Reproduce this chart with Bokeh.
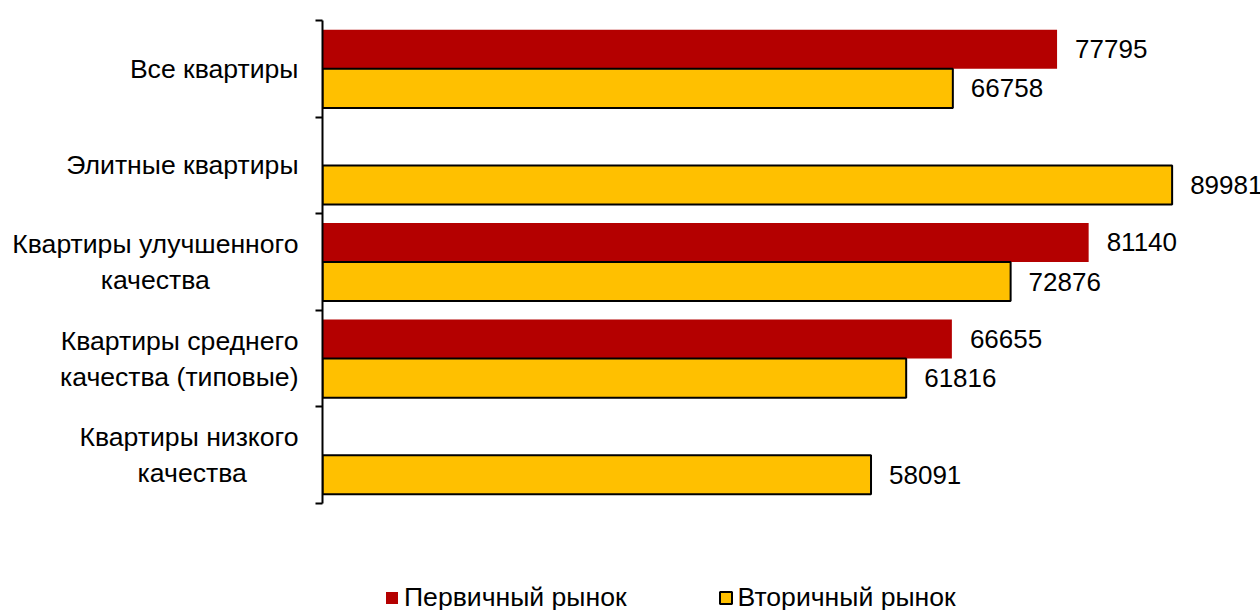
from bokeh.plotting import figure
from bokeh.models import (ColumnDataSource, Range1d, LinearAxis, FixedTicker,
                          Legend, LegendItem)
from bokeh.core.properties import value
from bokeh.embed import file_html
from bokeh.resources import INLINE

categories = ["Все квартиры", "Элитные квартиры", "Квартиры улучшенного\nкачества",
              "Квартиры среднего\nкачества (типовые)", "Квартиры низкого\nкачества"]
primary = [77795, None, 81140, 66655, None]
secondary = [66758, 89981, 72876, 61816, 58091]
series_names = ["Первичный рынок", "Вторичный рынок"]

FONT = "Liberation Sans"
RED = "#B40000"
YELLOW = "#FFC000"


def centered(label):
    # pad short lines so that right-aligned multi-line tick labels look centred
    lines = label.split("\n")
    if len(lines) == 1:
        return label
    pads = {"качества": {"Квартиры улучшенного": 12, "Квартиры низкого": 7}}
    out = [lines[0]]
    for ln in lines[1:]:
        k = pads.get(ln, {}).get(lines[0], 0)
        out.append(ln + "\u00a0" * k)
    return "\n".join(out)


n = len(categories)
centers = [n - 1 - i + 0.5 for i in range(n)]
off = 0.2025
h = 0.405

p_src = ColumnDataSource(dict(
    y=[c + off for c, v in zip(centers, primary) if v is not None],
    v=[v for v in primary if v is not None],
    t=[str(v) for v in primary if v is not None],
))
s_src = ColumnDataSource(dict(
    y=[c - off for c in centers],
    v=secondary,
    t=[str(v) for v in secondary],
))

p = figure(width=1260, height=610, output_backend="svg", toolbar_location=None,
           x_range=Range1d(0, 99340), y_range=Range1d(-1.1077, n),
           x_axis_location=None, y_axis_location=None,
           min_border_left=322, min_border_right=0, min_border_top=20,
           min_border_bottom=0)
p.xgrid.visible = False
p.ygrid.visible = False
p.outline_line_color = None

r1 = p.hbar(y="y", right="v", left=0, height=h, source=p_src,
            fill_color=RED, line_color=None)
r2 = p.hbar(y="y", right="v", left=0, height=h, source=s_src,
            fill_color=YELLOW, line_color="black", line_width=2)

for src in (p_src, s_src):
    p.text(x="v", y="y", text="t", source=src, x_offset=18,
           text_baseline="middle", text_align="left",
           text_font=value(FONT), text_font_size="26px", text_color="black")

ax = LinearAxis(ticker=FixedTicker(ticks=centers, minor_ticks=list(range(n + 1))),
                bounds=(0, n))
ax.major_label_overrides = {c: centered(lab) for c, lab in zip(centers, categories)}
ax.major_tick_out = 0
ax.major_tick_in = 0
ax.minor_tick_out = 7
ax.minor_tick_in = 0
ax.minor_tick_line_width = 2
ax.minor_tick_line_color = "black"
ax.axis_line_width = 2
ax.axis_line_color = "black"
ax.major_label_standoff = 17
ax.major_label_text_font = FONT
ax.major_label_text_font_size = "26.6px"
ax.major_label_text_color = "black"
p.add_layout(ax, "left")

legend = Legend(items=[LegendItem(label=series_names[0], renderers=[r1]),
                       LegendItem(label=series_names[1], renderers=[r2])],
                orientation="horizontal", location=(62, -3),
                glyph_width=15, glyph_height=15, label_standoff=5, spacing=91,
                padding=0, margin=0, border_line_color=None,
                background_fill_alpha=0, label_text_font=FONT,
                label_text_font_size="26.6px", label_text_color="black")
p.add_layout(legend, "center")

open("out.html", "w").write(file_html(p, INLINE))
